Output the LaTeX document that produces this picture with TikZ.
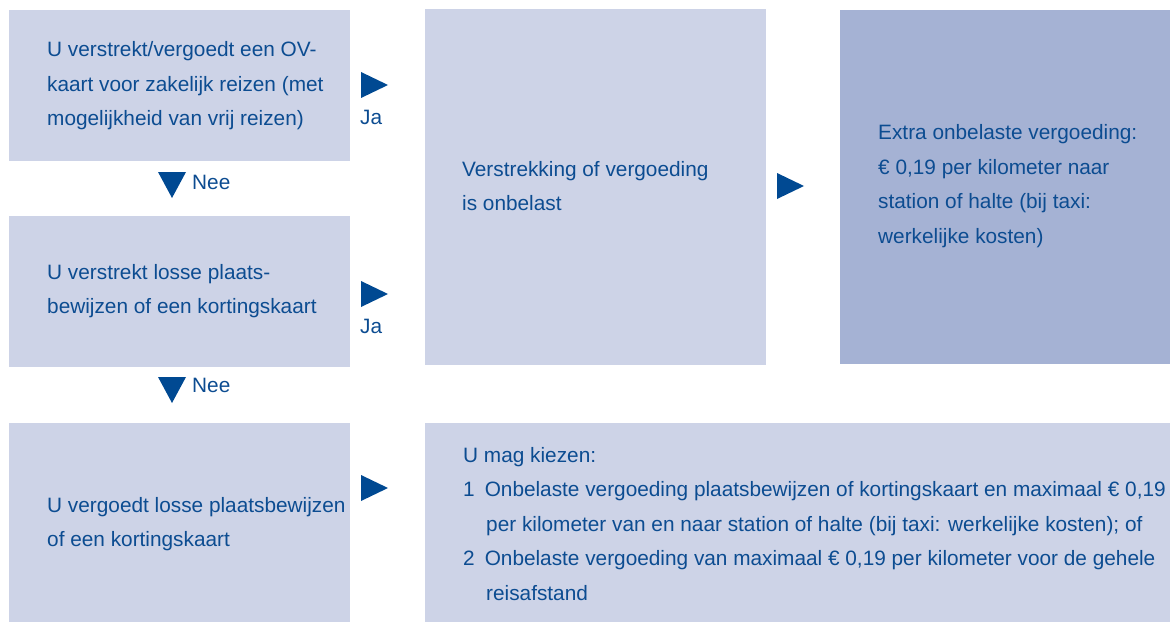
\documentclass[tikz,border=0pt]{standalone}
\usepackage{fontspec}
\setmainfont{Liberation Sans}
\begin{document}
\definecolor{boxlight}{RGB}{205,211,231}
\definecolor{boxdark}{RGB}{165,178,212}
\definecolor{ink}{RGB}{12,76,145}
\definecolor{marker}{RGB}{0,73,146}
\begin{tikzpicture}[x=1pt,y=-1pt,
  panel/.style={fill=boxlight,draw=none},
  panelhl/.style={fill=boxdark,draw=none},
  txt/.style={inner sep=0pt,text=ink,align=left,anchor=west,
    font=\fontsize{20.8}{34.5}\selectfont},
  lbl/.style={inner sep=0pt,text=ink,anchor=west,font=\fontsize{20.8}{24}\selectfont},
  pics/rtri/.style={code={\fill[marker] (0,-13) -- (27,0) -- (0,13) -- cycle;}},
  pics/dtri/.style={code={\fill[marker] (-14,-13) -- (14,-13) -- (0,13) -- cycle;}}]
\useasboundingbox (0,0) rectangle (1170,623);
% boxes
\path[panel] (9,10) rectangle (350,161);
\path[panel] (9,216) rectangle (350,367);
\path[panel] (9,423) rectangle (350,622);
\path[panel] (425,9) rectangle (766,365);
\path[panelhl] (840,10) rectangle (1170,364);
\path[panel] (425,423) rectangle (1170,622);
% box texts
\node[txt] (q1t) at (47,86) {U verstrekt/vergoedt een OV-\\kaart voor zakelijk reizen (met\\mogelijkheid van vrij reizen)};
\node[txt] (q2t) at (47,291) {U verstrekt losse plaats-\\bewijzen of een kortingskaart};
\node[txt] (q3t) at (47,524) {U vergoedt losse plaatsbewijzen\\of een kortingskaart};
\node[txt] (rest) at (462,186) {Verstrekking of vergoeding\\is onbelast};
\node[txt] (extra) at (878,186) {Extra onbelaste vergoeding:\\€ 0,19 per kilometer naar\\station of halte (bij taxi:\\werkelijke kosten)};
\node[txt] (choice) at (463,524) {U mag kiezen:\\
  1\hspace{10pt}Onbelaste vergoeding plaatsbewijzen of kortingskaart en maximaal € 0,19\\
  \hspace*{23pt}per kilometer van en naar station of halte (bij taxi: werkelijke kosten); of\\
  2\hspace{10pt}Onbelaste vergoeding van maximaal € 0,19 per kilometer voor de gehele\\
  \hspace*{23pt}reisafstand};
% markers
\pic (ja1) at (361,85) {rtri};
\node[lbl] (ja1l) at (360,117) {Ja};
\pic (ja2) at (361,294) {rtri};
\node[lbl] (ja2l) at (360,326) {Ja};
\pic (ja3) at (361,488) {rtri};
\pic (go) at (777,186) {rtri};
\pic (nee1) at (172,185) {dtri};
\node[lbl] (nee1l) at (192,182) {Nee};
\pic (nee2) at (172,390) {dtri};
\node[lbl] (nee2l) at (192,385) {Nee};
\end{tikzpicture}
\end{document}
